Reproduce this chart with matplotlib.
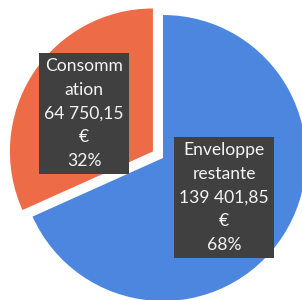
import matplotlib
matplotlib.use("Agg")
import matplotlib.pyplot as plt

categories = ["Enveloppe restante", "Consommation"]
values = [139401.85, 64750.15]
label_lines = [["Enveloppe", "restante"], ["Consomm", "ation"]]
colors = ["#4c86de", "#ee6b48"]

def fmt_eur(v):
    s = f"{v:,.2f}"
    s = s.replace(",", " ").replace(".", ",")
    return s

total = sum(values)

fig = plt.figure(figsize=(3.02, 3.00), dpi=100)
ax = fig.add_axes([0, 0, 1, 1])

ax.pie(values, colors=colors, startangle=90, counterclock=False,
       center=(163, 142), radius=143, explode=[0, 12],
       wedgeprops=dict(linewidth=0), frame=True)
ax.set_xlim(0, 302)
ax.set_ylim(0, 300)
ax.set_aspect("equal")
ax.axis("off")

positions = [(84, 186.5), (224, 102.5)][::-1]
for name_lines, v, pos in zip(label_lines, values, positions):
    pct = round(v / total * 100)
    txt = "\n".join(name_lines + [fmt_eur(v), "€", f"{pct}%"])
    ax.text(pos[0], pos[1], txt, ha="center", va="center", color="#f4f4f4",
            fontsize=12.6, linespacing=1.58,
            family=["Lato", "DejaVu Sans"],
            bbox=dict(boxstyle="square,pad=0.3", fc="#404040", ec="none"))

fig.savefig("out.png", dpi=100, facecolor="white")
